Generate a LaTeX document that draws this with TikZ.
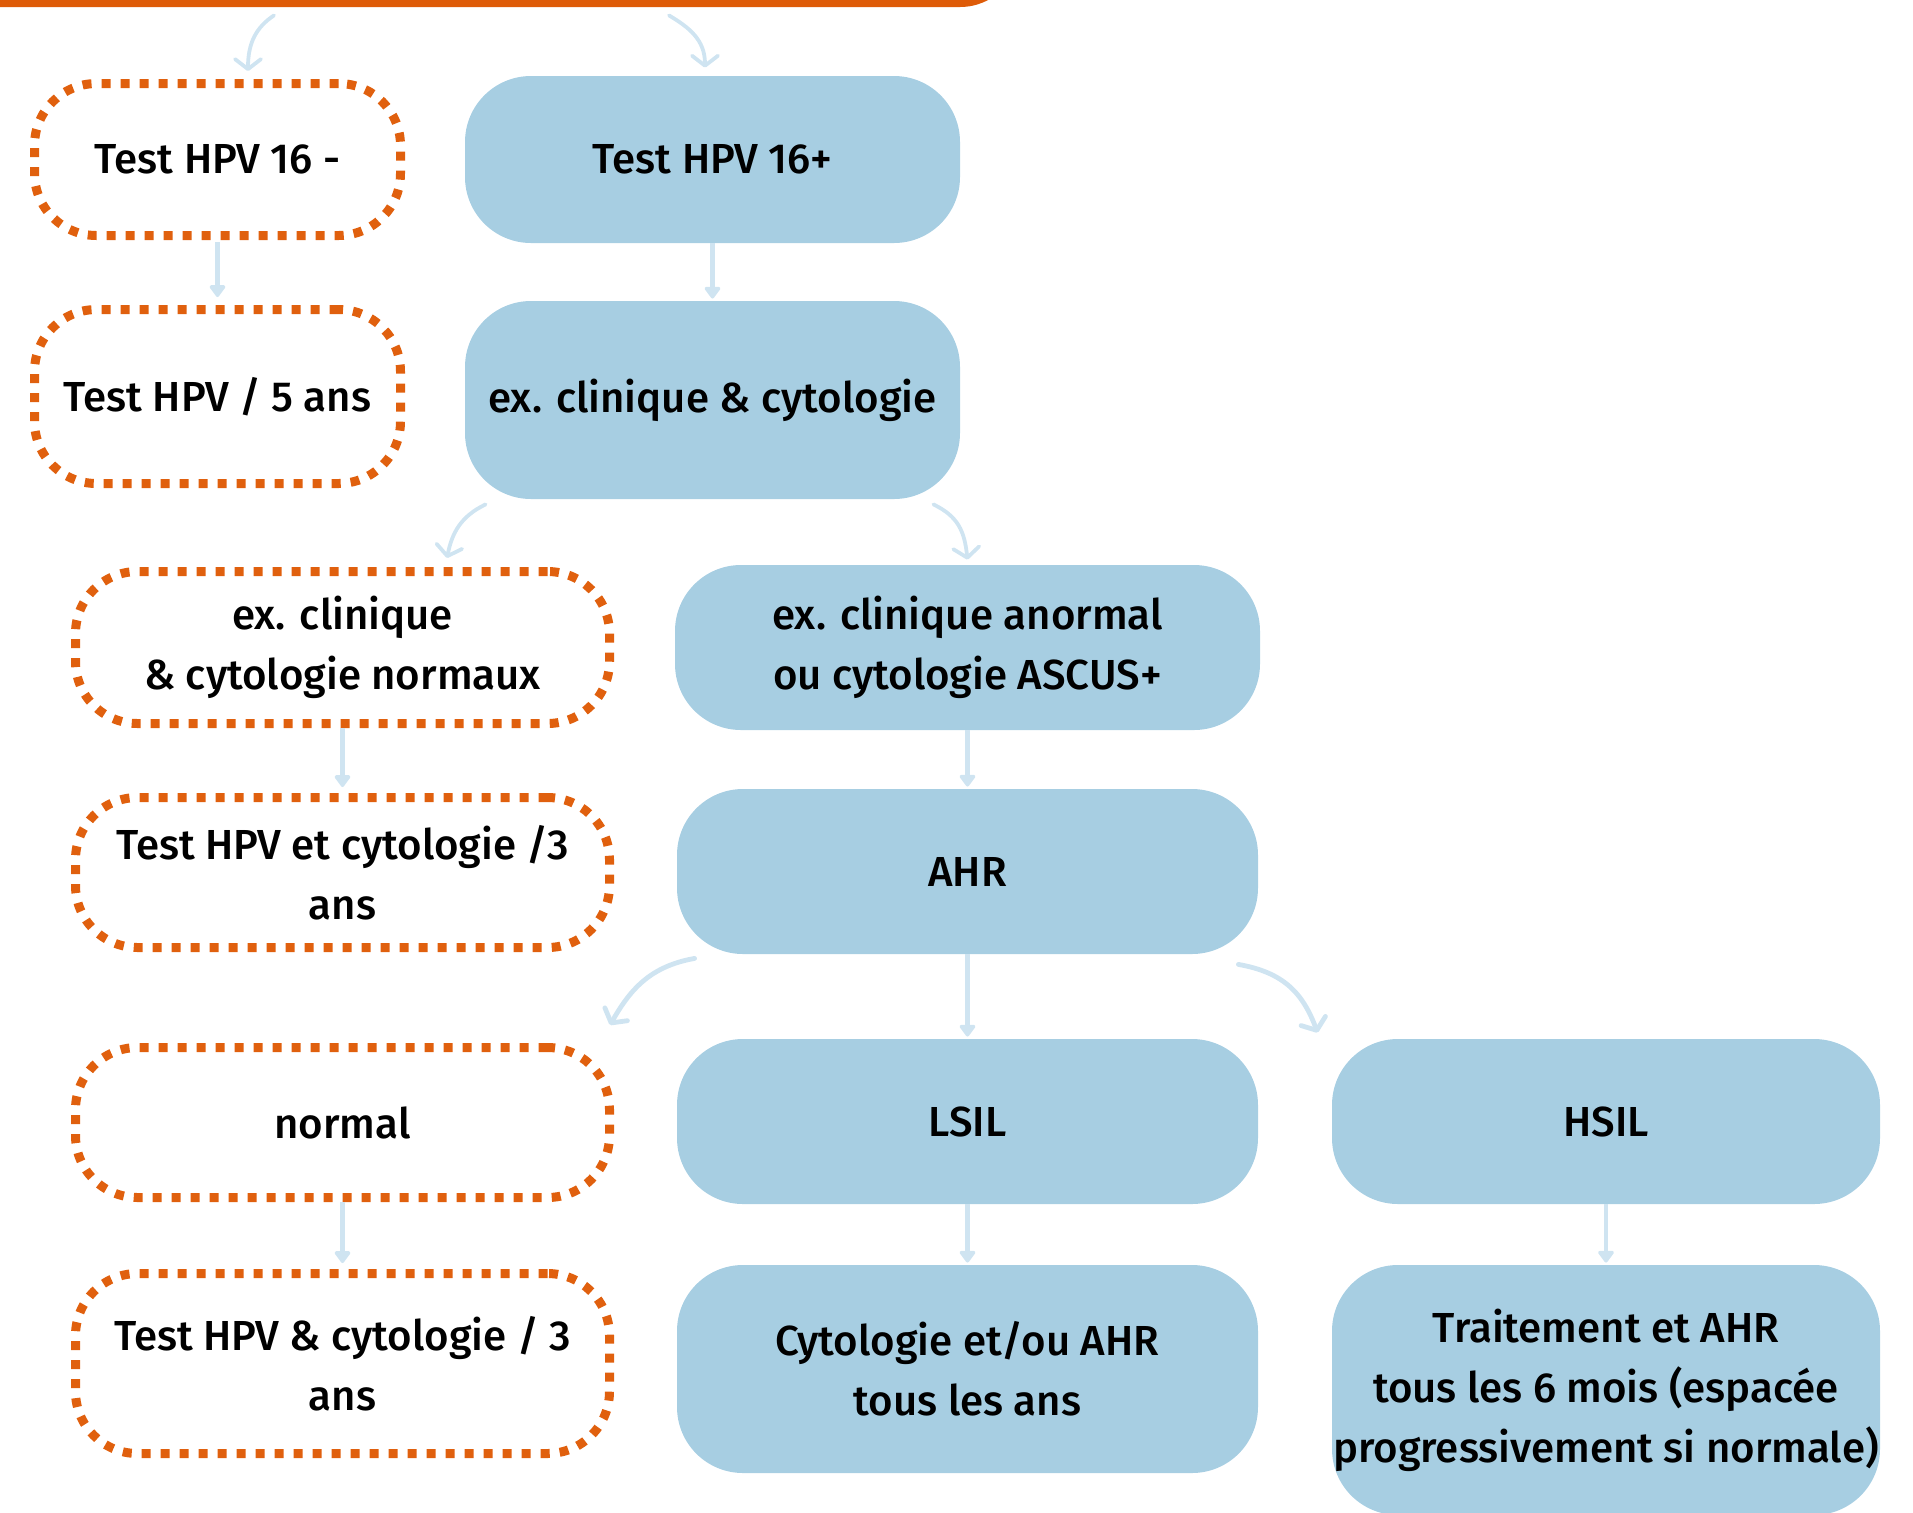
\documentclass[tikz,border=0pt]{standalone}
\usepackage{fontspec}
\setmainfont{Fira Sans}[UprightFont=* Medium]
\usetikzlibrary{arrows.meta}

\definecolor{boxblue}{HTML}{A7CEE2}
\definecolor{linkblue}{HTML}{CFE4F1}
\definecolor{dotorange}{HTML}{E0600E}
\definecolor{bandorange}{HTML}{DE5B08}

\tikzset{
  txt/.style={font=\fontsize{21}{30}\selectfont, align=center, text=black, inner sep=0pt},
  bluebox/.style={txt, fill=boxblue, rounded corners=33pt},
  dotbox/.style={txt, draw=dotorange, line width=4.5pt, dash pattern=on 4.5pt off 5pt, rounded corners=31pt},
  link/.style={draw=linkblue, line width=2.3pt, -{Triangle[round,width=9pt,length=6.5pt]}},
  curvelink/.style={draw=linkblue, line width=2.4pt, line cap=round, -{Straight Barb[round,length=5pt,width=13pt]}},
  thincurve/.style={curvelink, line width=1.9pt},
}

\begin{document}
\begin{tikzpicture}[x=0.5pt, y=-0.5pt]
  \useasboundingbox (0,0) rectangle (1913,1512);
  \clip (0,0) rectangle (1913,1512);

  % orange band across the top edge
  \node[fill=bandorange, rounded corners=30pt, minimum width=560pt, minimum height=78.5pt, inner sep=0pt] (band) at (460,-71.5) {};

  % left column: HPV 16 negative branch
  \node[dotbox, minimum width=183pt, minimum height=76pt] (A) at (217.5,159.5) {Test HPV 16 -};
  \node[dotbox, minimum width=183pt, minimum height=87pt] (B) at (217.5,396.5) {Test HPV / 5 ans};

  % HPV 16 positive branch
  \node[bluebox, minimum width=247.5pt, minimum height=83.5pt] (C) at (712.5,159.5) {Test HPV 16+};
  \node[bluebox, minimum width=247.5pt, minimum height=99pt] (D) at (712.5,400) {ex. clinique \& cytologie};

  \node[dotbox, minimum width=267pt, minimum height=76pt] (E) at (342.5,647.5) {ex. clinique\\\& cytologie normaux};
  \node[dotbox, minimum width=267pt, minimum height=75pt] (G) at (342.5,872.5) {Test HPV et cytologie /3\\ans};

  \node[bluebox, minimum width=292.5pt, minimum height=82.5pt] (F) at (967.5,647.5) {ex. clinique anormal\\ou cytologie ASCUS+};
  \node[bluebox, minimum width=290.5pt, minimum height=82.5pt] (H) at (967.5,871.5) {AHR};

  \node[dotbox, minimum width=267pt, minimum height=75pt] (I) at (342.5,1122.5) {normal};
  \node[dotbox, minimum width=267pt, minimum height=90pt] (L) at (342.5,1363.5) {Test HPV \& cytologie / 3\\ans};

  \node[bluebox, minimum width=290.5pt, minimum height=82.5pt] (J) at (967.5,1121.5) {LSIL};
  \node[bluebox, minimum width=290.5pt, minimum height=104pt] (M) at (967.5,1369) {Cytologie et/ou AHR\\tous les ans};

  \node[bluebox, minimum width=274pt, minimum height=82.5pt] (K) at (1606,1121.5) {HSIL};
  \node[bluebox, minimum width=274pt, minimum height=125pt] (N) at (1606,1390) {Traitement et AHR\\tous les 6 mois (espacée\\progressivement si normale)};

  % straight connectors
  \draw[link, shorten >=4pt, shorten <=1pt] (A.south) -- (B.north);
  \draw[link, shorten >=1pt] (C.south) -- (D.north);
  \draw[link, shorten >=3pt] (E.south) -- (G.north);
  \draw[link, shorten >=1pt] (F.south) -- (H.north);
  \draw[link, shorten >=1pt] (H.south) -- (J.north);
  \draw[link, shorten >=3pt] (I.south) -- (L.north);
  \draw[link, shorten >=1pt] (J.south) -- (M.north);
  \draw[link, shorten >=1pt] (K.south) -- (N.north);

  % curved connectors
  \draw[thincurve] ([shift={(-186,8)}]band.south) .. controls +(-18,12) and +(0,-28) .. ([shift={(30.5,-8)}]A.north);
  \draw[thincurve] ([shift={(209,8)}]band.south) .. controls +(20,12) and +(0,-28) .. ([shift={(-7.5,-8)}]C.north);
  \draw[thincurve] ([shift={(21,5)}]D.south west) .. controls +(-25,12) and +(5,-25) .. ([shift={(104.5,-9)}]E.north);
  \draw[thincurve] ([shift={(-27,5)}]D.south east) .. controls +(25,12) and +(-3,-28) .. ([shift={(0,-5)}]F.north);
  \draw[curvelink] ([shift={(18,4)}]H.south west) .. controls +(-45,8) and +(20,-35) .. ([shift={(-4,-18)}]I.north east);
  \draw[curvelink] ([shift={(-20,10)}]H.south east) .. controls +(45,8) and +(-15,-40) .. ([shift={(-14,-6)}]K.north west);
\end{tikzpicture}
\end{document}
